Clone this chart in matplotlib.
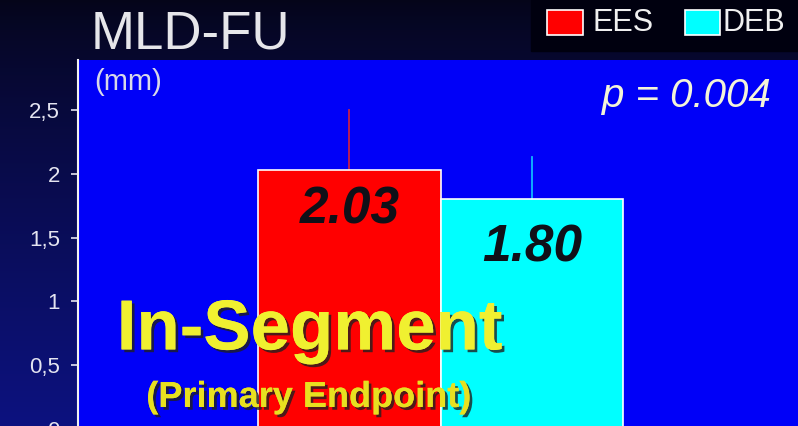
import numpy as np
import matplotlib
matplotlib.use("Agg")
import matplotlib.pyplot as plt
import matplotlib.patheffects as pe
from matplotlib.patches import Rectangle

# Data
groups = ["EES", "DEB"]
means = [2.03, 1.80]
upper_err = [0.47, 0.33]
bar_colors = ["#ff0000", "#00ffff"]
err_colors = ["#c8204a", "#10b8ff"]
yticks = [0, 0.5, 1, 1.5, 2, 2.5]
ytick_labels = ["0", "0,5", "1", "1,5", "2", "2,5"]
p_text = "p = 0.004"

plt.rcParams["font.family"] = ["Liberation Sans", "DejaVu Sans"]

W, H = 798, 426
fig = plt.figure(figsize=(W / 100, H / 100), dpi=100)

# dark navy backdrop with a soft vertical gradient
bg = fig.add_axes([0, 0, 1, 1], zorder=-10)
grad = np.linspace(0, 1, 256).reshape(-1, 1)
top = np.array([0.02, 0.02, 0.10])
bot = np.array([0.05, 0.07, 0.50])
img = top + (bot - top) * grad[..., None] ** 0.8
bg.imshow(img, aspect="auto", extent=[0, 1, 0, 1], origin="upper")
bg.set_axis_off()

# legend strip at top right
bg.add_patch(Rectangle((0.665, 0.88), 0.335, 0.12, color="#00000f", zorder=2))

# plot panel runs slightly past the lower edge of the figure
ax = fig.add_axes([78 / W, -10 / H, 1 - 78 / W, 376 / H])
ax.set_facecolor("#0000f8")

x = np.arange(len(groups))
ax.bar(x, means, width=1.0, color=bar_colors, edgecolor="white", linewidth=1.2, zorder=3)
for xi, m, e, c in zip(x, means, upper_err, err_colors):
    ax.plot([xi, xi], [m, m + e], color=c, lw=1.3, zorder=2)

ax.set_xlim(-1.488, 2.46)
ax.set_ylim(-0.055, 2.894)

ax.set_yticks(yticks)
ax.set_yticklabels(ytick_labels, color="#e4e4f0", fontsize=16)
ax.tick_params(axis="y", colors="#e4e4f0", length=5, width=1.2, pad=8)
ax.set_xticks([])
for s in ["top", "right", "bottom"]:
    ax.spines[s].set_visible(False)
ax.spines["left"].set_color("#f0f0f0")
ax.spines["left"].set_linewidth(1.5)

# value labels inside the bars
label_offsets = [-0.31, -0.38]
for xi, m, off in zip(x, means, label_offsets):
    ax.text(xi, m + off, f"{m:.2f}", ha="center", va="center", fontsize=37,
            fontweight="bold", fontstyle="italic", color="#101018", zorder=5)

# headings and annotations
fig.text(0.113, 0.918, "MLD-FU", fontsize=38, color="#e6e6ea", ha="left", va="center")
fig.text(0.118, 0.808, "(mm)", fontsize=21, color="#d8d8e8", ha="left", va="center")
fig.text(0.966, 0.775, p_text, fontsize=29, fontstyle="italic", color="#f4f4d8",
         ha="right", va="center")

shadow = [pe.withSimplePatchShadow(offset=(2, -2), shadow_rgbFace="#202020", alpha=0.8),
          pe.Normal()]
fig.text(0.388, 0.222, "In-Segment", fontsize=51, fontweight="bold", color="#f0f030",
         ha="center", va="center", path_effects=shadow, zorder=10)
fig.text(0.387, 0.067, "(Primary Endpoint)", fontsize=26, fontweight="bold",
         color="#e8e020", ha="center", va="center", path_effects=shadow, zorder=10)

# legend
leg_items = [(0.686, 0.057, "EES", bar_colors[0]), (0.858, 0.048, "DEB", bar_colors[1])]
for lx, dx, name, col in leg_items:
    fig.patches.append(Rectangle((lx, 0.918), 0.044, 0.058, transform=fig.transFigure,
                                 facecolor=col, edgecolor="white", linewidth=1.2, figure=fig))
    fig.text(lx + dx, 0.947, name, fontsize=22, color="#f0f0f0", ha="left", va="center")

fig.savefig("out.png", dpi=100, facecolor=fig.get_facecolor())
